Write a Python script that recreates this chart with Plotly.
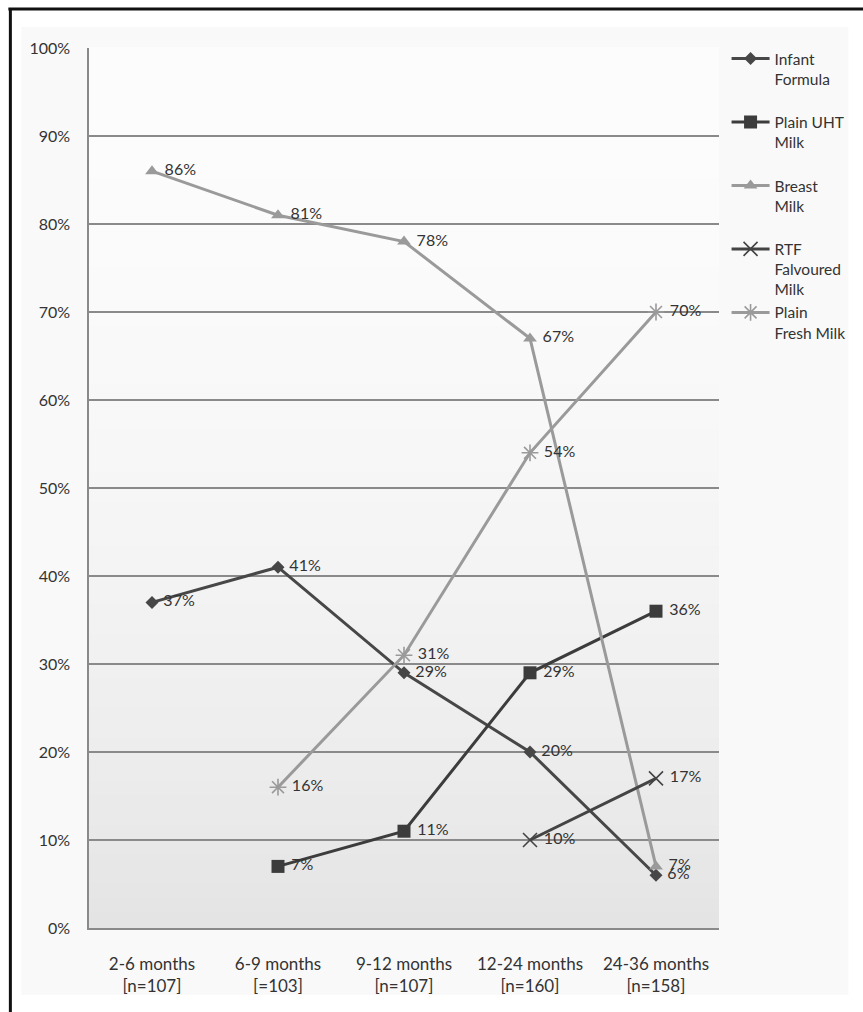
import plotly.graph_objects as go

# ---------------- data ----------------
categories = ["2-6 months<br>[n=107]", "6-9 months<br>[=103]", "9-12 months<br>[n=107]",
              "12-24 months<br>[n=160]", "24-36 months<br>[n=158]"]
infant_formula = [37, 41, 29, 20, 6]
plain_uht_milk = [None, 7, 11, 29, 36]
breast_milk = [86, 81, 78, 67, 7]
rtf_flavoured_milk = [None, None, None, 10, 17]
plain_fresh_milk = [None, 16, 31, 54, 70]
legend_names = ["Infant<br>Formula<br>\u00a0", "Plain UHT<br>Milk<br>\u00a0", "Breast<br>Milk<br>\u00a0",
                "RTF<br>Falvoured<br>Milk", "Plain<br>Fresh Milk<br>\u00a0"]
y_tick_values = list(range(0, 101, 10))
y_tick_labels = [f"{v}%" for v in y_tick_values]

# ---------------- layout geometry ----------------
W, H = 863, 1012
ML, MR, MT, MB = 89, 141, 48, 84
PW, PH = W - ML - MR, H - MT - MB


def px(x):
    return (x - ML) / PW


def py(y):
    return (H - MB - y) / PH


FONT = "Lato"
TXT = "#333333"

series = [
    (infant_formula, legend_names[0], "#474747", dict(symbol="diamond", size=10, color="#474747")),
    (plain_uht_milk, legend_names[1], "#3c3c3c", dict(symbol="square", size=13, color="#3c3c3c")),
    (breast_milk, legend_names[2], "#9a9a9a", dict(symbol="triangle-up", size=12, color="#9a9a9a")),
    (rtf_flavoured_milk, legend_names[3], "#444444",
     dict(symbol="x-thin-open", size=14, color="#444444", line=dict(width=1.6, color="#444444"))),
    (plain_fresh_milk, legend_names[4], "#9a9a9a",
     dict(symbol="asterisk-open", size=14, color="#9a9a9a", line=dict(width=1.6, color="#9a9a9a"))),
]

fig = go.Figure()
for vals, name, col, mk in series:
    fig.add_trace(go.Scatter(
        x=categories, y=vals, name=name,
        mode="lines+markers+text",
        line=dict(color=col, width=3),
        marker=mk,
        text=[None if v is None else f"\u00a0{v}%" for v in vals],
        textposition="middle right",
        textfont=dict(family=FONT, size=16, color=TXT),
        cliponaxis=False,
        connectgaps=False,
    ))

shapes = []
# faint chart-area panel and outer frame (top and left edges)
shapes.append(dict(type="rect", xref="paper", yref="paper", layer="below",
                   x0=px(21), x1=px(852), y0=py(995), y1=py(27),
                   fillcolor="#f9f9f9", line=dict(width=0)))
shapes.append(dict(type="line", xref="paper", yref="paper",
                   x0=px(8), x1=px(W + 5), y0=py(9), y1=py(9),
                   line=dict(color="#111111", width=3)))
shapes.append(dict(type="line", xref="paper", yref="paper",
                   x0=px(10), x1=px(10), y0=py(8), y1=py(H + 5),
                   line=dict(color="#111111", width=3)))
# plot-area vertical gradient (white at top -> light grey at bottom)
NB = 60
for i in range(NB):
    t = (i + 0.5) / NB
    g = int(round(252 - 24 * t ** 2))
    shapes.append(dict(type="rect", xref="paper", yref="paper", layer="below",
                       x0=0, x1=1, y0=1 - (i + 1) / NB, y1=1 - i / NB + 0.001,
                       fillcolor=f"rgb({g},{g},{g})", line=dict(width=0)))

fig.update_layout(
    width=W, height=H,
    margin=dict(l=ML, r=MR, t=MT, b=MB),
    paper_bgcolor="white",
    plot_bgcolor="rgba(0,0,0,0)",
    font=dict(family=FONT, size=16, color=TXT),
    shapes=shapes,
    showlegend=True,
    legend=dict(
        x=1.012, y=1.0 + 6 / PH, xanchor="left", yanchor="top",
        valign="top", bgcolor="rgba(0,0,0,0)",
        font=dict(family=FONT, size=15.5, color=TXT),
        tracegroupgap=0, itemwidth=38,
    ),
    hovermode=False,
)
fig.update_xaxes(
    type="category", categoryorder="array", categoryarray=categories,
    range=[-0.5, 4.5],
    showline=True, linecolor="#8a8a8a", linewidth=1.5,
    showgrid=False, ticks="", ticklabelstandoff=20,
    tickfont=dict(family=FONT, size=17, color=TXT),
    zeroline=False,
)
fig.update_yaxes(
    range=[0, 100], tickvals=y_tick_values, ticktext=y_tick_labels,
    showline=True, linecolor="#8a8a8a", linewidth=1.5,
    showgrid=True, gridcolor="#8a8a8a", gridwidth=1.5,
    ticks="", ticklabelstandoff=14,
    tickfont=dict(family=FONT, size=16, color=TXT),
    zeroline=False,
)

fig.write_html("out.html")
